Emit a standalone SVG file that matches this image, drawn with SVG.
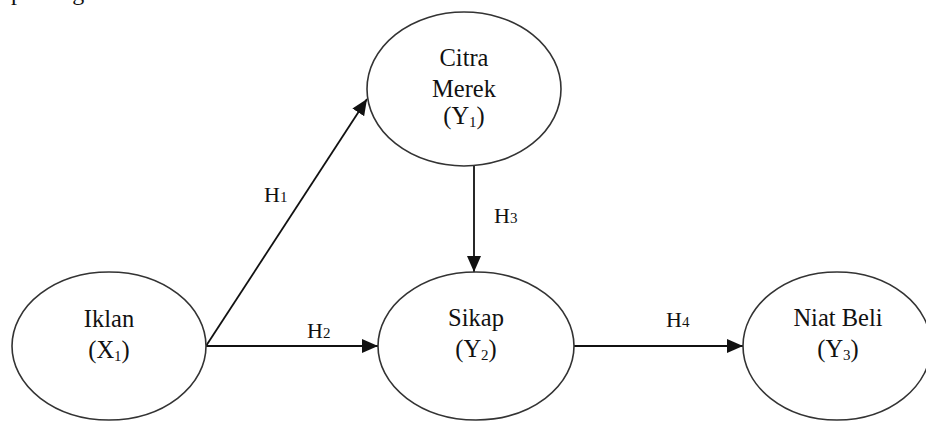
<svg xmlns="http://www.w3.org/2000/svg" width="926" height="423" viewBox="0 0 926 423">
  <style>
    .node { fill: #ffffff; stroke: #333333; stroke-width: 1.6; }
    .edge { stroke: #111111; stroke-width: 1.8; fill: none; }
    .label { font-family: "Liberation Serif", "Times New Roman", serif; font-size: 24.5px; fill: #111111; text-anchor: middle; }
    .hyp { font-family: "Liberation Serif", "Times New Roman", serif; font-size: 22px; fill: #111111; }
    .sub { font-size: 15px; }
  </style>
  <defs>
    <marker id="arrow" markerUnits="userSpaceOnUse" markerWidth="16" markerHeight="14" refX="16" refY="7" orient="auto">
      <path d="M0,0 L16,7 L0,14 Z" fill="#111111"/>
    </marker>
  </defs>

  <rect width="926" height="423" fill="#ffffff"/>

  <!-- last line of the running text above the figure, clipped by the top edge -->
  <text class="hyp" x="11" y="-0.5" style="font-size:24px" word-spacing="10">pada gambar berikut</text>

  <g id="connectors">
    <line class="edge" x1="206" y1="346" x2="367" y2="99" marker-end="url(#arrow)"/>
    <line class="edge" x1="206" y1="346" x2="378" y2="346" marker-end="url(#arrow)"/>
    <line class="edge" x1="474" y1="166" x2="474" y2="272" marker-end="url(#arrow)"/>
    <line class="edge" x1="574" y1="346" x2="743" y2="346" marker-end="url(#arrow)"/>
    <text class="hyp" x="264" y="202">H<tspan class="sub">1</tspan></text>
    <text class="hyp" x="307" y="338">H<tspan class="sub">2</tspan></text>
    <text class="hyp" x="494" y="223">H<tspan class="sub">3</tspan></text>
    <text class="hyp" x="666" y="327">H<tspan class="sub">4</tspan></text>
  </g>

  <g id="citra-merek">
    <ellipse class="node" cx="464" cy="89" rx="97" ry="77"/>
    <text class="label" x="464" y="66">Citra</text>
    <text class="label" x="464" y="97">Merek</text>
    <text class="label" x="464" y="124">(Y<tspan class="sub" dy="3">1</tspan><tspan dy="-3">)</tspan></text>
  </g>

  <g id="iklan">
    <ellipse class="node" cx="109" cy="346" rx="97" ry="74"/>
    <text class="label" x="109" y="327">Iklan</text>
    <text class="label" x="109" y="358">(X<tspan class="sub" dy="3">1</tspan><tspan dy="-3">)</tspan></text>
  </g>

  <g id="sikap">
    <ellipse class="node" cx="476" cy="346" rx="98" ry="74"/>
    <text class="label" x="476" y="326">Sikap</text>
    <text class="label" x="476" y="357">(Y<tspan class="sub" dy="3">2</tspan><tspan dy="-3">)</tspan></text>
  </g>

  <g id="niat-beli">
    <ellipse class="node" cx="837" cy="346" rx="94" ry="74"/>
    <text class="label" x="838" y="326">Niat Beli</text>
    <text class="label" x="838" y="357">(Y<tspan class="sub" dy="3">3</tspan><tspan dy="-3">)</tspan></text>
  </g>
</svg>
